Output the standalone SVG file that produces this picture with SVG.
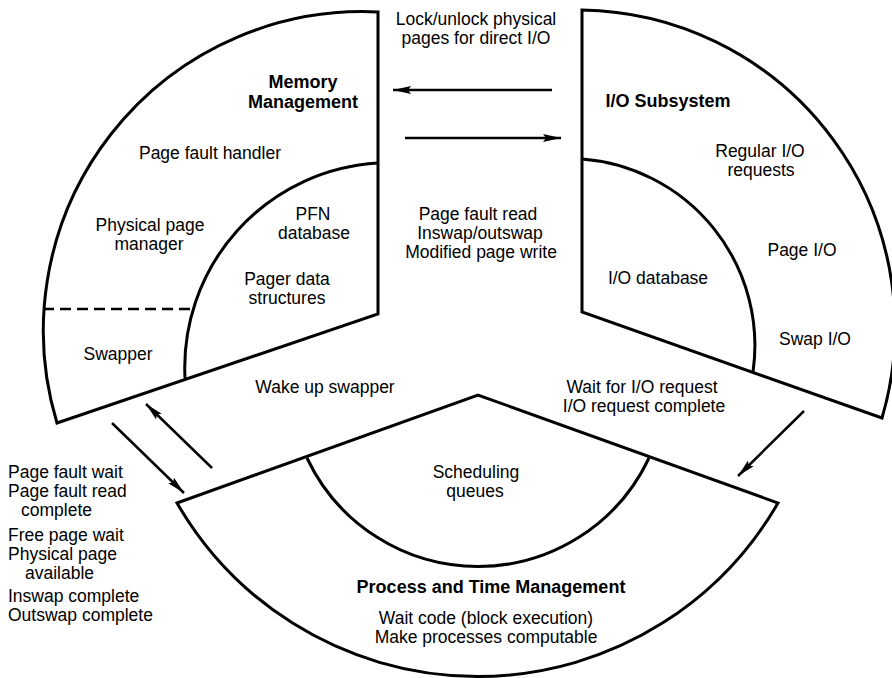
<svg xmlns="http://www.w3.org/2000/svg" width="892" height="678" viewBox="0 0 892 678">
  <style>
    .sector { fill: #fff; stroke: #000; stroke-width: 3; stroke-linejoin: miter; }
    .inner { fill: none; stroke: #000; stroke-width: 3; }
    .dash { fill: none; stroke: #000; stroke-width: 2.5; stroke-dasharray: 11 6; }
    .flow { fill: none; stroke: #000; stroke-width: 2.5; marker-end: url(#head); }
    text { font-family: "Liberation Sans", Arial, Helvetica, sans-serif; font-size: 17.5px; fill: #000; }
    .c { text-anchor: middle; }
    .title { font-weight: bold; font-size: 18px; }
  </style>
  <defs>
    <marker id="head" viewBox="0 0 18 10" refX="18" refY="5" markerWidth="18" markerHeight="10" markerUnits="userSpaceOnUse" orient="auto">
      <path d="M0,1 L18,5 L0,9 L3,5 Z" fill="#000"/>
    </marker>
  </defs>
  <rect width="892" height="678" fill="#fff"/>

  <!-- Memory Management wedge -->
  <g id="memory-management">
    <path class="sector" d="M378,12 L378,314 L57,423 A319,319 0 0 1 378,12 Z"/>
    <path class="inner" d="M378,163 A205,205 0 0 0 185,378"/>
    <line class="dash" x1="43" y1="309" x2="193" y2="309"/>
    <text class="c title" x="303" y="88">Memory</text>
    <text class="c title" x="303" y="108">Management</text>
    <text class="c" x="210" y="159">Page fault handler</text>
    <text class="c" x="150" y="231">Physical page</text>
    <text class="c" x="149" y="250">manager</text>
    <text class="c" x="313" y="220">PFN</text>
    <text class="c" x="314" y="239">database</text>
    <text class="c" x="287" y="285">Pager data</text>
    <text class="c" x="287" y="304">structures</text>
    <text class="c" x="118" y="360">Swapper</text>
  </g>

  <!-- I/O Subsystem wedge -->
  <g id="io-subsystem">
    <path class="sector" d="M582,10 L582,312 L882,418 A318,318 0 0 0 582,10 Z"/>
    <path class="inner" d="M582,159 A187,187 0 0 1 753,372"/>
    <text class="c title" x="668" y="107">I/O Subsystem</text>
    <text class="c" x="760" y="157">Regular I/O</text>
    <text class="c" x="761" y="176">requests</text>
    <text class="c" x="802" y="256">Page I/O</text>
    <text class="c" x="658" y="284">I/O database</text>
    <text class="c" x="815" y="345">Swap I/O</text>
  </g>

  <!-- Process and Time Management wedge -->
  <g id="process-time-management">
    <path class="sector" d="M177,503 L478,395 L778,503 A347,347 0 0 1 177,503 Z"/>
    <path class="inner" d="M307,458 A189,189 0 0 0 649,458"/>
    <text class="c" x="476" y="478">Scheduling</text>
    <text class="c" x="475" y="497">queues</text>
    <text class="c title" x="491" y="593">Process and Time Management</text>
    <text class="c" x="486" y="624">Wait code (block execution)</text>
    <text class="c" x="486" y="643">Make processes computable</text>
  </g>

  <!-- Interactions between the subsystems -->
  <g id="connectors">
    <line class="flow" x1="552" y1="90" x2="393" y2="90"/>
    <line class="flow" x1="405" y1="138" x2="561" y2="138"/>
    <line class="flow" x1="212" y1="468" x2="146" y2="404"/>
    <line class="flow" x1="112" y1="423" x2="184" y2="493"/>
    <line class="flow" x1="804" y1="411" x2="738" y2="476"/>

    <text class="c" x="476" y="25">Lock/unlock physical</text>
    <text class="c" x="476" y="44">pages for direct I/O</text>
    <text class="c" x="478" y="220">Page fault read</text>
    <text class="c" x="480" y="239">Inswap/outswap</text>
    <text class="c" x="481" y="258">Modified page write</text>
    <text class="c" x="325" y="393">Wake up swapper</text>
    <text class="c" x="642" y="393">Wait for I/O request</text>
    <text class="c" x="644" y="412">I/O request complete</text>
    <text x="8" y="478">Page fault wait</text>
    <text x="8" y="497">Page fault read</text>
    <text x="21" y="516">complete</text>
    <text x="8" y="541">Free page wait</text>
    <text x="8" y="560">Physical page</text>
    <text x="25" y="579">available</text>
    <text x="8" y="602">Inswap complete</text>
    <text x="8" y="621">Outswap complete</text>
  </g>
</svg>
